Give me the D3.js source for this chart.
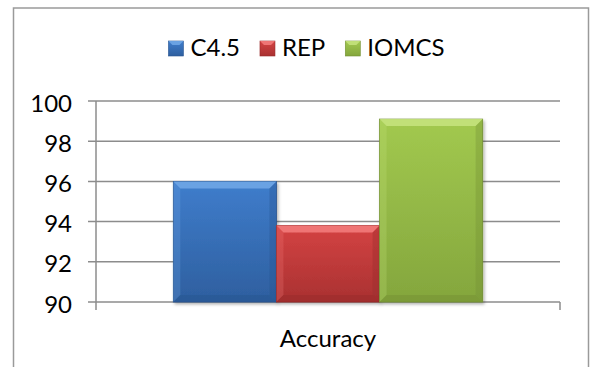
<!DOCTYPE html>
<html>
<head>
<meta charset="utf-8">
<script src="https://cdn.jsdelivr.net/npm/d3@7"></script>
<style>
    html, body { margin: 0; padding: 0; background: #fff; }
    svg { display: block; font-family: Lato, 'Open Sans', sans-serif; }
</style>
</head>
<body>
<div id="chart"></div>
<script>
(function () {

const categories = ['Accuracy'];
const seriesNames = ['C4.5', 'REP', 'IOMCS'];
const seriesValues = [96.0, 93.8, 99.1];
const yTicks = [90, 92, 94, 96, 98, 100];

const [WIDTH, HEIGHT] = [590, 367];
const PLOT = { left: 96, right: 560, top: 101, bottom: 302 };
const FONT_SIZE = 24;
const BEVEL = 7;

const PALETTE = {
    'C4.5': { light: '#6fa6e6', mid: '#3f7dcc', dark: '#2e5f9f', edge: '#28548f' },
    'REP': { light: '#f27b7b', mid: '#d44343', dark: '#a93131', edge: '#962a2a' },
    'IOMCS': { light: '#c4e27c', mid: '#a2c94f', dark: '#84a63d', edge: '#738f34' },
};

const svg = d3.select('#chart').append('svg')
    .attr('width', WIDTH)
    .attr('height', HEIGHT)
    .attr('viewBox', `0 0 ${WIDTH} ${HEIGHT}`);

const defs = svg.append('defs');

// drop shadow for bars
const shadow = defs.append('filter')
    .attr('id', 'shadow')
    .attr('x', '-10%').attr('y', '-10%')
    .attr('width', '125%').attr('height', '125%');
shadow.append('feDropShadow')
    .attr('dx', 1.5).attr('dy', 2)
    .attr('stdDeviation', 1.5)
    .attr('flood-color', '#000')
    .attr('flood-opacity', 0.3);

seriesNames.forEach((name, i) => {
    const c = PALETTE[name];
    const g = defs.append('linearGradient')
        .attr('id', 'grad' + i)
        .attr('x1', 0).attr('y1', 0).attr('x2', 0).attr('y2', 1);
    g.append('stop').attr('offset', '0%').attr('stop-color', c.mid);
    g.append('stop').attr('offset', '100%').attr('stop-color', c.dark);
});

// outer chart border
svg.append('rect')
    .attr('x', 13.5).attr('y', 8)
    .attr('width', 575).attr('height', HEIGHT + 20)
    .attr('fill', 'none')
    .attr('stroke', '#9a9a9a')
    .attr('stroke-width', 1.5);

const y = d3.scaleLinear()
    .domain([d3.min(yTicks), d3.max(yTicks)])
    .range([PLOT.bottom, PLOT.top]);

const x0 = d3.scaleBand()
    .domain(categories)
    .range([PLOT.left, PLOT.right])
    .paddingInner(0)
    .paddingOuter(0);

const x1 = d3.scaleBand()
    .domain(seriesNames)
    .range([0, x0.bandwidth()])
    .paddingInner(0)
    .paddingOuter(0.75);

// gridlines
svg.append('g')
    .selectAll('line')
    .data(yTicks)
    .join('line')
    .attr('x1', PLOT.left - 8)
    .attr('x2', PLOT.right)
    .attr('y1', (d) => y(d))
    .attr('y2', (d) => y(d))
    .attr('stroke', '#8c8c8c')
    .attr('stroke-width', 1.5);

// y axis labels via d3 axis
const yAxis = svg.append('g')
    .attr('transform', `translate(${PLOT.left},0)`)
    .call(d3.axisLeft(y).tickValues(yTicks).tickSize(0).tickPadding(24));
yAxis.select('.domain').remove();
yAxis.selectAll('text')
    .attr('font-family', 'Lato, sans-serif')
    .attr('font-size', FONT_SIZE)
    .attr('fill', '#000')
    .attr('dy', '0.42em');

// axis lines
svg.append('line')
    .attr('x1', PLOT.left).attr('x2', PLOT.left)
    .attr('y1', PLOT.top).attr('y2', PLOT.bottom + 8)
    .attr('stroke', '#8c8c8c').attr('stroke-width', 1.5);
svg.append('line')
    .attr('x1', PLOT.right).attr('x2', PLOT.right)
    .attr('y1', PLOT.bottom).attr('y2', PLOT.bottom + 8)
    .attr('stroke', '#8c8c8c').attr('stroke-width', 1.5);

// bars
const groups = svg.append('g')
    .selectAll('g')
    .data(categories)
    .join('g')
    .attr('transform', (d) => `translate(${x0(d)},0)`);

groups.selectAll('g.bar')
    .data(seriesNames.map((name, i) => ({ name: name, i: i, value: seriesValues[i] })))
    .join('g')
    .attr('class', 'bar')
    .attr('filter', 'url(#shadow)')
    .each(function (d) {
        const g = d3.select(this);
        const c = PALETTE[d.name];
        const bx = x1(d.name);
        const bw = x1.bandwidth();
        const by = y(d.value);
        const bh = y(d3.min(yTicks)) - by;
        const b = BEVEL;

        g.append('rect')
            .attr('x', bx).attr('y', by)
            .attr('width', bw).attr('height', bh)
            .attr('fill', `url(#grad${d.i})`)
            .attr('stroke', c.edge)
            .attr('stroke-width', 0.8);

        const poly = (pts, fill, op) => g.append('polygon')
            .attr('points', pts.map((p) => p.join(',')).join(' '))
            .attr('fill', fill)
            .attr('opacity', op);

        poly([[bx, by], [bx + bw, by], [bx + bw - b, by + b], [bx + b, by + b]], c.light, 0.9);
        poly([[bx, by], [bx + b, by + b], [bx + b, by + bh - b], [bx, by + bh]], c.light, 0.25);
        poly([[bx + bw, by], [bx + bw - b, by + b], [bx + bw - b, by + bh - b], [bx + bw, by + bh]], c.edge, 0.35);
        poly([[bx, by + bh], [bx + b, by + bh - b], [bx + bw - b, by + bh - b], [bx + bw, by + bh]], c.edge, 0.45);
    });

// category label
svg.append('text')
    .attr('x', x0(categories[0]) + x0.bandwidth() / 2)
    .attr('y', 347)
    .attr('text-anchor', 'middle')
    .attr('font-size', FONT_SIZE)
    .attr('fill', '#000')
    .text(categories[0]);

// legend
const legend = svg.append('g');
const items = legend.selectAll('g')
    .data(seriesNames)
    .join('g');

items.append('rect')
    .attr('width', 15).attr('height', 15)
    .attr('y', 41)
    .attr('fill', (d, i) => `url(#grad${i})`)
    .attr('stroke', (d) => PALETTE[d].edge)
    .attr('stroke-width', 0.6);
items.append('path')
    .attr('d', 'M0,41 L15,41 L11,45 L4,45 Z')
    .attr('fill', (d) => PALETTE[d].light)
    .attr('opacity', 0.9);
items.append('text')
    .attr('x', 22)
    .attr('y', 56)
    .attr('font-size', FONT_SIZE)
    .attr('fill', '#000')
    .text((d) => d);

let offset = 0;
const widths = [];
items.each(function () {
    const w = this.querySelector('text').getComputedTextLength();
    widths.push(22 + w);
});
const total = d3.sum(widths) + 20 * (widths.length - 1);
offset = 306.5 - total / 2;
items.attr('transform', (d, i) => {
    const tx = offset;
    offset += widths[i] + 20;
    return `translate(${tx},0)`;
});

})();
</script>
</body>
</html>
